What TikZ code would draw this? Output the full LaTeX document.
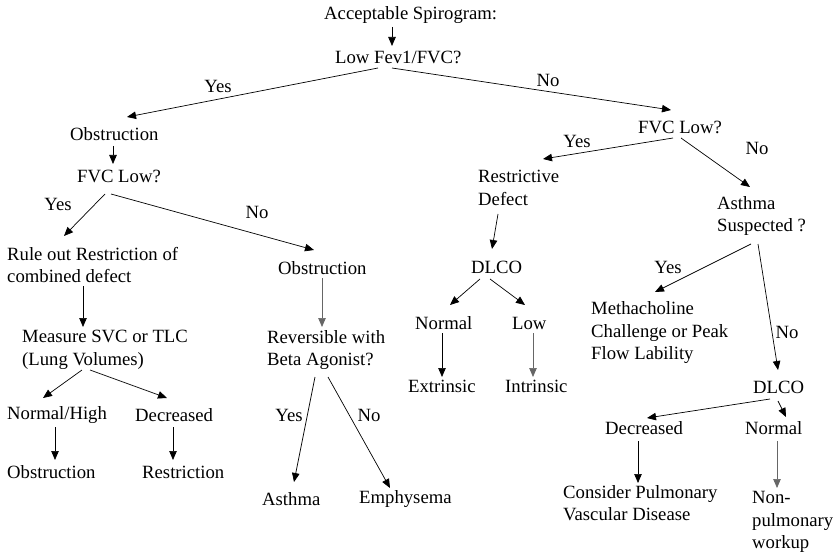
\documentclass[tikz,border=0pt]{standalone}
\usepackage{fontspec}
\setmainfont{Liberation Serif}
\usetikzlibrary{arrows.meta}
\begin{document}
\begin{tikzpicture}[x=1pt,y=-1pt,
  txt/.style={anchor=west,inner sep=0pt,align=left,font=\fontsize{18.7}{22.5}\selectfont},
  lbl/.style={inner sep=0pt,font=\fontsize{18.7}{22.5}\selectfont},
  arr/.style={line width=0.7pt,-{Triangle[length=9pt,width=7.5pt]}},
  garr/.style={arr,draw=black!60}]
\useasboundingbox[fill=white] (0,0) rectangle (835,556);
% nodes
\node[txt] (acc) at (324,15) {Acceptable Spirogram:};
\node[txt] (low) at (335,57) {Low Fev1/FVC?};
\node[txt] (obs1) at (70,134) {Obstruction};
\node[txt] (fvc1) at (77,176) {FVC Low?};
\node[txt] (rule) at (7,265) {Rule out Restriction of\\combined defect};
\node[txt] (meas) at (22,350) {Measure SVC or TLC\\(Lung Volumes)};
\node[txt] (nh) at (7,415) {Normal/High};
\node[txt] (dec1) at (135,415) {Decreased};
\node[txt] (obs2) at (7,472) {Obstruction};
\node[txt] (restr) at (142,472) {Restriction};
\node[txt] (obs3) at (278,268) {Obstruction};
\node[txt] (rev) at (267,350) {Reversible with\\Beta Agonist?};
\node[txt] (asth) at (262,499) {Asthma};
\node[txt] (emph) at (359,499) {Emphysema};
\node[txt] (fvc2) at (638,127) {FVC Low?};
\node[txt] (rd) at (478,188) {Restrictive\\Defect};
\node[txt] (dlco1) at (471,267) {DLCO};
\node[txt] (norm1) at (415,323) {Normal};
\node[txt] (low1) at (512,323) {Low};
\node[txt] (extr) at (408,386) {Extrinsic};
\node[txt] (intr) at (505,386) {Intrinsic};
\node[txt] (asus) at (717,216) {Asthma\\Suspected ?};
\node[txt] (meth) at (591,333) {Methacholine\\Challenge or Peak\\Flow Lability};
\node[txt] (dlco2) at (753,387) {DLCO};
\node[txt] (dec2) at (605,428) {Decreased};
\node[txt] (norm2) at (745,428) {Normal};
\node[txt] (cons) at (563,503) {Consider Pulmonary\\Vascular Disease};
\node[txt] (nonp) at (752,522) {Non-\\pulmonary\\workup};
% labels
\node[lbl] (y1) at (218,86) {Yes};
\node[lbl] (n1) at (548,80) {No};
\node[lbl] (y2) at (577,141) {Yes};
\node[lbl] (n2) at (757,148) {No};
\node[lbl] (y3) at (58,204) {Yes};
\node[lbl] (n3) at (257,212) {No};
\node[lbl] (y4) at (668,267) {Yes};
\node[lbl] (n4) at (787,332) {No};
\node[lbl] (y5) at (289,415) {Yes};
\node[lbl] (n5) at (369,415) {No};
% connectors
\draw[arr] ([shift={(68,12)}]acc.west) -- ([shift={(57,-11)}]low.west);
\draw[arr] ([shift={(43,11)}]low.west) -- ([shift={(57,-17)}]obs1.west);
\draw[arr] ([shift={(57,11)}]low.west) -- ([shift={(33,-17)}]fvc2.west);
\draw[arr] ([shift={(43,12)}]obs1.west) -- ([shift={(36,-12)}]fvc1.west);
\draw[arr] ([shift={(28,18)}]fvc1.west) -- ([shift={(57,-29)}]rule.west);
\draw[arr] ([shift={(34,18)}]fvc1.west) -- ([shift={(36,-18)}]obs3.west);
\draw[arr] ([shift={(76,21)}]rule.west) -- ([shift={(61,-23)}]meas.west);
\draw[arr] ([shift={(60,20)}]meas.west) -- ([shift={(36,-17)}]nh.west);
\draw[arr] ([shift={(68,20)}]meas.west) -- ([shift={(32,-17)}]dec1.west);
\draw[arr] ([shift={(48,12)}]nh.west) -- ([shift={(48,-12)}]obs2.west);
\draw[arr] ([shift={(38,12)}]dec1.west) -- ([shift={(31,-12)}]restr.west);
\draw[garr] ([shift={(44,10)}]obs3.west) -- ([shift={(55,-23)}]rev.west);
\draw[arr] ([shift={(48,27)}]rev.west) -- ([shift={(32,-17)}]asth.west);
\draw[arr] ([shift={(61,27)}]rev.west) -- ([shift={(31,-11)}]emph.west);
\draw[arr] ([shift={(35,11)}]fvc2.west) -- ([shift={(65,-29)}]rd.west);
\draw[arr] ([shift={(43,11)}]fvc2.west) -- ([shift={(33,-29)}]asus.west);
\draw[arr] ([shift={(20,26)}]rd.west) -- ([shift={(21,-18)}]dlco1.west);
\draw[arr] ([shift={(9,12)}]dlco1.west) -- ([shift={(35,-18)}]norm1.west);
\draw[arr] ([shift={(19,12)}]dlco1.west) -- ([shift={(13,-18)}]low1.west);
\draw[arr] ([shift={(27,10)}]norm1.west) -- ([shift={(34,-9)}]extr.west);
\draw[garr] ([shift={(21,10)}]low1.west) -- ([shift={(28,-9)}]intr.west);
\draw[arr] ([shift={(34,28)}]asus.west) -- ([shift={(64,-41)}]meth.west);
\draw[arr] ([shift={(41,28)}]asus.west) -- ([shift={(25,-17)}]dlco2.west);
\draw[arr] ([shift={(17,12)}]dlco2.west) -- ([shift={(42,-10)}]dec2.west);
\draw[arr] ([shift={(25,14)}]dlco2.west) -- ([shift={(41,-11)}]norm2.west);
\draw[arr] ([shift={(33,13)}]dec2.west) -- ([shift={(75,-20)}]cons.west);
\draw[garr] ([shift={(32,13)}]norm2.west) -- ([shift={(25,-34)}]nonp.west);
\end{tikzpicture}
\end{document}
